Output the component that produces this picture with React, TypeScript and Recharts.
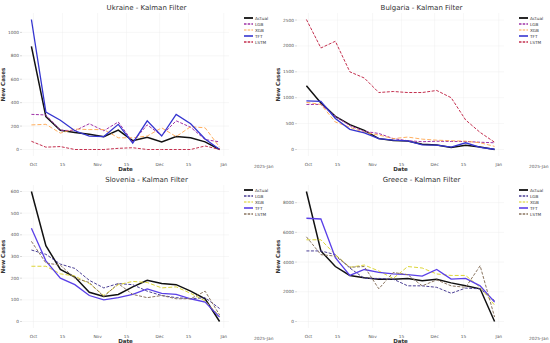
import { CartesianGrid, Legend, Line, LineChart, XAxis, YAxis } from "recharts";

const dates = [
  "2024-09-30", "2024-10-07", "2024-10-14", "2024-10-21", "2024-10-28",
  "2024-11-04", "2024-11-11", "2024-11-18", "2024-11-25", "2024-12-02",
  "2024-12-09", "2024-12-16", "2024-12-23", "2024-12-30",
];
const tickDates = ["2024-10-01", "2024-10-15", "2024-11-01", "2024-11-15", "2024-12-01", "2024-12-15", "2025-01-01"];
const tickLabels = ["Oct", "15", "Nov", "15", "Dec", "15", "Jan"];
const seriesNames = ["Actual", "LGB", "XGB", "TFT", "LSTM"];

const ukraineActual = [880, 280, 165, 145, 130, 110, 165, 75, 105, 65, 110, 100, 65, 0];
const ukraineLGB = [300, 295, 165, 160, 220, 160, 235, 65, 210, 120, 245, 190, 85, 65];
const ukraineXGB = [210, 215, 140, 175, 170, 170, 100, 100, 115, 185, 110, 195, 185, 20];
const ukraineTFT = [1110, 320, 250, 160, 115, 110, 215, 55, 245, 115, 300, 220, 90, 0];
const ukraineLSTM = [70, 20, 25, 0, 0, 0, 10, 15, 0, 0, 0, 0, 30, 0];
const ukraineTicks = [0, 200, 400, 600, 800, 1000];

const bulgariaActual = [1230, 900, 640, 480, 370, 210, 175, 165, 100, 85, 40, 80, 50, 0];
const bulgariaLGB = [870, 870, 640, 460, 350, 310, 210, 170, 150, 160, 155, 155, 140, 130];
const bulgariaXGB = [910, 870, 530, 430, 330, 280, 210, 240, 200, 180, 170, 160, 130, 60];
const bulgariaTFT = [940, 930, 600, 390, 320, 210, 180, 165, 90, 85, 45, 130, 40, 5];
const bulgariaLSTM = [2510, 1960, 2090, 1500, 1380, 1100, 1120, 1100, 1100, 1140, 1000, 570, 330, 140];
const bulgariaTicks = [0, 500, 1000, 1500, 2000, 2500];

const sloveniaActual = [600, 350, 240, 205, 135, 115, 125, 160, 190, 175, 170, 140, 105, 0];
const sloveniaLGB = [330, 310, 265, 245, 190, 155, 175, 170, 140, 120, 110, 105, 110, 60];
const sloveniaXGB = [255, 255, 220, 210, 175, 120, 170, 185, 180, 155, 160, 130, 95, 25];
const sloveniaTFT = [430, 280, 200, 170, 120, 100, 110, 125, 150, 130, 125, 105, 90, 20];
const sloveniaLSTM = [370, 270, 260, 200, 180, 115, 175, 125, 110, 120, 105, 105, 140, 30];
const sloveniaTicks = [0, 100, 200, 300, 400, 500, 600];

const greeceActual = [8750, 4750, 3700, 3100, 2950, 2850, 2850, 2900, 2750, 2850, 2600, 2400, 2200, 0];
const greeceLGB = [4750, 4750, 4500, 3600, 2900, 2900, 2850, 2400, 2400, 2300, 1900, 2250, 2200, 1400];
const greeceXGB = [5500, 5500, 4500, 3650, 3800, 3400, 2900, 3700, 3600, 3200, 3100, 3100, 2300, 1100];
const greeceTFT = [6950, 6900, 4300, 3100, 3500, 3300, 3200, 3150, 3050, 3500, 2850, 2900, 2400, 1300];
const greeceLSTM = [5700, 4500, 4400, 3650, 3700, 2200, 3300, 3150, 2400, 2800, 2400, 2300, 3750, 300];
const greeceTicks = [0, 2000, 4000, 6000, 8000];

const topColors = ["#111111", "#a033a8", "#ffa64d", "#3535d0", "#c4304f"];
const bottomColors = ["#111111", "#4b3f95", "#d8d020", "#5a40e8", "#8a7560"];
const dashes = [undefined, "3 1.5", "4 2", undefined, "3 1.5"];
const widths = [1.5, 1, 0.9, 1.3, 1];

const day0 = Date.UTC(2024, 9, 1);
const toDay = (s: string) => (Date.parse(s + "T00:00:00Z") - day0) / 86400000;
const xs = dates.map(toDay);
const xTicks = tickDates.map(toDay);
const xMin = xs[0] - (xs[xs.length - 1] - xs[0]) * 0.05;
const xMax = xs[xs.length - 1] + (xs[xs.length - 1] - xs[0]) * 0.05;

const font = "DejaVu Sans, sans-serif";

type PanelProps = {
  title: string;
  series: number[][];
  ticks: number[];
  colors: string[];
  left: number;
  top: number;
};

const Panel = ({ title, series, ticks, colors, left, top }: PanelProps) => {
  const data = xs.map((x, i) => {
    const row: Record<string, number> = { x };
    seriesNames.forEach((n, k) => (row[n] = series[k][i]));
    return row;
  });
  const all = series.flat();
  const lo = Math.min(...all);
  const hi = Math.max(...all);
  const pad = (hi - lo) * 0.05;

  const legend = () => (
    <svg width={40} height={32}>
      {seriesNames.map((n, k) => (
        <g key={n}>
          <line
            x1={0}
            x2={9}
            y1={3 + k * 6}
            y2={3 + k * 6}
            stroke={colors[k]}
            strokeWidth={widths[k] + 0.3}
            strokeDasharray={dashes[k] ? "2.5 1.2" : undefined}
          />
          <text x={11} y={4.6 + k * 6} fontSize={4.2} fill="#333" fontFamily={font}>
            {n}
          </text>
        </g>
      ))}
    </svg>
  );

  return (
    <div style={{ position: "absolute", left, top, width: 275, height: 172 }}>
      <div
        style={{
          position: "absolute",
          top: 4,
          left: 23,
          width: 247,
          textAlign: "center",
          fontFamily: font,
          fontSize: 7,
          color: "#333",
          lineHeight: "9px",
        }}
      >
        {title}
      </div>
      <LineChart width={275} height={172} data={data} margin={{ top: 13, right: 6, bottom: 0, left: 0 }}>
        <CartesianGrid stroke="#ececec" strokeWidth={0.4} horizontalValues={ticks} verticalValues={xTicks} />
        <XAxis
          dataKey="x"
          type="number"
          domain={[xMin, xMax]}
          ticks={xTicks}
          tickFormatter={(v: number) => tickLabels[xTicks.indexOf(v)] ?? ""}
          axisLine={false}
          tickLine={false}
          height={16}
          tickMargin={1}
          tick={{ fontSize: 4.3, fill: "#555", fontFamily: font }}
          interval={0}
          allowDataOverflow
          label={{
            value: "Date",
            position: "insideBottom",
            offset: 1,
            fontSize: 5.5,
            fontWeight: "bold",
            fill: "#333",
            fontFamily: font,
          }}
        />
        <YAxis
          type="number"
          domain={[lo - pad, hi + pad]}
          ticks={ticks}
          axisLine={false}
          tickSize={2}
          tickLine={{ stroke: "#999", strokeWidth: 0.4 }}
          width={22}
          tickMargin={1}
          interval={0}
          allowDataOverflow
          tick={{ fontSize: 4.3, fill: "#555", fontFamily: font }}
          label={{
            value: "New Cases",
            angle: -90,
            position: "insideLeft",
            offset: 3,
            fontSize: 5.6,
            fontWeight: "bold",
            fill: "#333",
            fontFamily: font,
            style: { textAnchor: "middle" },
          }}
        />
        <Legend
          content={legend}
          layout="vertical"
          verticalAlign="top"
          align="right"
          wrapperStyle={{ position: "absolute", top: 15, left: 244, width: 40 }}
        />
        {seriesNames.map((n, k) => (
          <Line
            key={n}
            dataKey={n}
            type="linear"
            stroke={colors[k]}
            strokeWidth={widths[k]}
            strokeDasharray={dashes[k]}
            dot={false}
            activeDot={false}
            isAnimationActive={false}
          />
        ))}
      </LineChart>
      <div
        style={{
          position: "absolute",
          top: 164,
          left: 254,
          fontFamily: font,
          fontSize: 4.3,
          lineHeight: "6px",
          color: "#555",
        }}
      >
        2025-Jan
      </div>
    </div>
  );
};

export default function App() {
  return (
    <div style={{ position: "absolute", left: 0, top: 0, width: 550, height: 343, background: "#fff" }}>
      <Panel
        title="Ukraine - Kalman Filter"
        series={[ukraineActual, ukraineLGB, ukraineXGB, ukraineTFT, ukraineLSTM]}
        ticks={ukraineTicks}
        colors={topColors}
        left={0}
        top={0}
      />
      <Panel
        title="Bulgaria - Kalman Filter"
        series={[bulgariaActual, bulgariaLGB, bulgariaXGB, bulgariaTFT, bulgariaLSTM]}
        ticks={bulgariaTicks}
        colors={topColors}
        left={275}
        top={0}
      />
      <Panel
        title="Slovenia - Kalman Filter"
        series={[sloveniaActual, sloveniaLGB, sloveniaXGB, sloveniaTFT, sloveniaLSTM]}
        ticks={sloveniaTicks}
        colors={bottomColors}
        left={0}
        top={172}
      />
      <Panel
        title="Greece - Kalman Filter"
        series={[greeceActual, greeceLGB, greeceXGB, greeceTFT, greeceLSTM]}
        ticks={greeceTicks}
        colors={bottomColors}
        left={275}
        top={172}
      />
    </div>
  );
}
